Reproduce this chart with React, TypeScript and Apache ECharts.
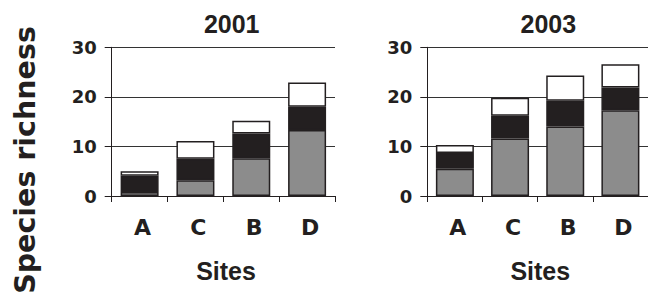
import React, { useEffect, useRef } from "react";
import * as echarts from "echarts";

const sites = ["A", "C", "B", "D"];
const years = ["2001", "2003"];
const yTicks = [0, 10, 20, 30];

// stacked segments (bottom: gray, middle: black, top: white)
const gray2001 = [0.8, 3.2, 7.6, 13.3];
const black2001 = [3.3, 4.3, 5.0, 4.7];
const white2001 = [0.9, 3.6, 2.6, 4.9];

const gray2003 = [5.5, 11.6, 14.0, 17.3];
const black2003 = [3.2, 4.6, 5.2, 4.6];
const white2003 = [1.6, 3.6, 5.1, 4.7];

const yAxisTitle = "Species richness";
const xAxisTitle = "Sites";

const FONT = '"Liberation Sans", Arial, Helvetica, sans-serif';
const WIDE = '"DejaVu Sans", Verdana, sans-serif';
const INK = "#231f20";

export default function App() {
  const ref = useRef<HTMLDivElement>(null);

  useEffect(() => {
    if (!ref.current) return;
    const chart = echarts.init(ref.current, undefined, { renderer: "svg" });

    const grids = [
      { left: 111.7, top: 47.3, width: 223.3, height: 148.7 },
      { left: 427.3, top: 47.3, width: 225.2, height: 148.7 },
    ];

    const xAxes = grids.map((_, i) => ({
      type: "category",
      gridIndex: i,
      data: sites,
      axisLine: { show: true, lineStyle: { color: INK, width: 1 } },
      axisTick: { show: true, length: 6, interval: 0, lineStyle: { color: INK } },
      axisLabel: {
        margin: 20,
        fontSize: 22,
        fontWeight: "bold",
        fontFamily: WIDE,
        color: INK,
        padding: [0, 0, 0, 6],
      },
      splitLine: { show: false },
    }));

    const yAxes = grids.map((_, i) => ({
      type: "value",
      gridIndex: i,
      min: yTicks[0],
      max: yTicks[yTicks.length - 1],
      interval: yTicks[1] - yTicks[0],
      axisLine: { show: true, lineStyle: { color: INK, width: 1 } },
      axisTick: { show: true, length: 7, lineStyle: { color: INK } },
      axisLabel: {
        margin: 15,
        fontSize: 18,
        fontWeight: "bold",
        fontFamily: WIDE,
        color: INK,
      },
      splitLine: { show: true, lineStyle: { color: "#333", width: 1 } },
    }));

    const segStyle = (color: string) => ({
      color,
      borderColor: INK,
      borderWidth: 1.5,
    });

    const data = [
      [gray2001, black2001, white2001],
      [gray2003, black2003, white2003],
    ];
    const colors = ["#8c8c8c", "#231f20", "#ffffff"];

    const series: any[] = [];
    data.forEach((segs, gi) => {
      segs.forEach((vals, si) => {
        series.push({
          type: "bar",
          xAxisIndex: gi,
          yAxisIndex: gi,
          stack: "s" + gi,
          barWidth: 38,
          data: vals,
          itemStyle: segStyle(colors[si]),
          emphasis: { disabled: true },
        });
      });
    });

    const textStyle = (text: string, size: number, family: string) => ({
      text,
      font: `bold ${size}px ${family}`,
      fill: INK,
      align: "center",
      verticalAlign: "middle",
      textAlign: "center",
      textVerticalAlign: "middle",
    });

    chart.setOption({
      animation: false,
      grid: grids,
      xAxis: xAxes,
      yAxis: yAxes,
      series,
      graphic: [
        { type: "text", x: 231.7, y: 23.5, style: textStyle(years[0], 25, FONT) },
        { type: "text", x: 548.3, y: 23.5, style: textStyle(years[1], 25, FONT) },
        { type: "text", x: 226, y: 271, style: textStyle(xAxisTitle, 25, FONT) },
        { type: "text", x: 540.3, y: 271, style: textStyle(xAxisTitle, 25, FONT) },
        {
          type: "text",
          x: 25,
          y: 160,
          rotation: Math.PI / 2,
          style: textStyle(yAxisTitle, 28.5, WIDE),
        },
      ],
    });

    return () => chart.dispose();
  }, []);

  return (
    <div
      ref={ref}
      style={{ position: "fixed", left: 0, top: 0, width: 648, height: 302, background: "#fff" }}
    />
  );
}
